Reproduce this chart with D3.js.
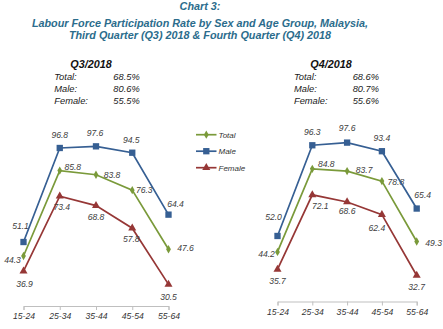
<!DOCTYPE html>
<html>
<head>
<meta charset="utf-8">
<script src="https://cdn.jsdelivr.net/npm/d3@7"></script>
<style>
  body { margin: 0; background: #fff; }
  svg { display: block; font-family: "Liberation Sans", Arial, sans-serif; }
  .ttl { font-weight: bold; font-style: italic; fill: #2b6c8c; font-size: 10.8px; }
  .info { font-style: italic; fill: #1a1a1a; font-size: 9.3px; }
  .infohead { font-weight: bold; font-style: italic; fill: #111; font-size: 10.8px; }
  .lbl { font-style: italic; fill: #404040; font-size: 8.6px; }
  .leg { font-style: italic; fill: #333; font-size: 8px; }
  .axis path, .axis line { stroke: #bfbfbf; }
  .axis text { font-style: italic; fill: #333; font-size: 8.6px; font-family: "Liberation Sans", Arial, sans-serif; }
</style>
</head>
<body>
<svg id="chart" width="443" height="329"></svg>
<script>
// age groups along the x axis
var ageGroups = ["15-24", "25-34", "35-44", "45-54", "55-64"];

// Q3/2018 participation rates (%)
var q3Total  = [44.3, 85.8, 83.8, 76.3, 47.6];
var q3Male   = [51.1, 96.8, 97.6, 94.5, 64.4];
var q3Female = [36.9, 73.4, 68.8, 57.8, 30.5];
var q3Overall = ["68.5%", "80.6%", "55.5%"];

// Q4/2018 participation rates (%)
var q4Total  = [44.2, 84.8, 83.7, 78.8, 49.3];
var q4Male   = [52.0, 96.3, 97.6, 93.4, 65.4];
var q4Female = [35.7, 72.1, 68.6, 62.4, 32.7];
var q4Overall = ["68.6%", "80.7%", "55.6%"];

var seriesNames = ["Total", "Male", "Female"];
var colors = { Total: "#7a9a3a", Male: "#365f93", Female: "#963736" };

// label offsets [dx, dy] from each point, per panel / series
var q3Offsets = {
  Total:  [[-11, 7], [13, -1], [16, 3], [12, 3], [17, 2]],
  Male:   [[-3, -13], [0, -10], [-1, -10], [-1, -10], [7, -8]],
  Female: [[1, 16], [2, 14], [0, 14], [-1, 14], [0, 16]]
};
var q4Offsets = {
  Total:  [[-11, 5], [14, -2], [17, 2], [14, 4], [17, 4]],
  Male:   [[-4, -16], [0, -10], [0, -12], [0, -10], [6, -11]],
  Female: [[0, 15], [8, 14], [0, 12], [-5, 16], [0, 15]]
};

var svg = d3.select("#chart");

// title block
var titleLines = [
  ["Chart 3:", 10],
  ["Labour Force Participation Rate by Sex and Age Group, Malaysia,", 26.5],
  ["Third Quarter (Q3) 2018 & Fourth Quarter (Q4) 2018", 39]
];
svg.selectAll("text.ttl").data(titleLines).join("text")
  .attr("class", "ttl")
  .attr("x", 200).attr("y", function(d){ return d[1]; })
  .attr("text-anchor", "middle")
  .text(function(d){ return d[0]; });

var symbolOf = {
  Total: d3.symbol().type(d3.symbolDiamond).size(20),
  Male: d3.symbol().type(d3.symbolSquare).size(40),
  Female: d3.symbol().type(d3.symbolTriangle).size(28)
};

function drawPanel(p) {
  var x = d3.scalePoint().domain(ageGroups).range(p.xRange);
  var y = d3.scaleLinear().domain([20, 100]).range(p.yRange);
  var g = svg.append("g");

  // header with overall rates
  g.append("text").attr("class", "infohead")
    .attr("x", p.headX).attr("y", 67.5).attr("text-anchor", "middle").text(p.head);
  seriesNames.forEach(function(s, i){
    var yy = 80.3 + i * 11.7;
    g.append("text").attr("class", "info").attr("x", p.infoX).attr("y", yy).text(s + ":");
    g.append("text").attr("class", "info").attr("x", p.valX).attr("y", yy).text(p.overall[i]);
  });

  g.append("g").attr("class", "axis")
    .attr("transform", "translate(0," + p.yRange[0] + ")")
    .call(d3.axisBottom(x).tickSize(4).tickSizeOuter(4).tickPadding(3))
    .call(function(a){ a.selectAll("text").attr("font-size", null); });

  var line = d3.line()
    .x(function(d, i){ return x(ageGroups[i]); })
    .y(function(d){ return y(d); });

  seriesNames.forEach(function(s){
    var vals = p.data[s];
    g.append("path").datum(vals)
      .attr("fill", "none").attr("stroke", colors[s]).attr("stroke-width", 1.7)
      .attr("d", line);
    g.selectAll(null).data(vals).join("path")
      .attr("transform", function(d, i){ return "translate(" + x(ageGroups[i]) + "," + y(d) + ")"; })
      .attr("fill", colors[s])
      .attr("d", symbolOf[s]);
    g.selectAll(null).data(vals).join("text")
      .attr("class", "lbl").attr("text-anchor", "middle")
      .attr("x", function(d, i){ return x(ageGroups[i]) + p.offsets[s][i][0]; })
      .attr("y", function(d, i){ return y(d) + p.offsets[s][i][1]; })
      .text(function(d){ return d.toFixed(1); });
  });
}

drawPanel({
  head: "Q3/2018", headX: 91, infoX: 54.3, valX: 113.3, overall: q3Overall,
  xRange: [23.5, 168.5], yRange: [306, 141.4],
  data: { Total: q3Total, Male: q3Male, Female: q3Female },
  offsets: q3Offsets
});
drawPanel({
  head: "Q4/2018", headX: 331, infoX: 294, valX: 352.7, overall: q4Overall,
  xRange: [277.5, 416.7], yRange: [301.5, 137.7],
  data: { Total: q4Total, Male: q4Male, Female: q4Female },
  offsets: q4Offsets
});

// legend between the panels
var leg = svg.append("g");
seriesNames.forEach(function(s, i){
  var ly = 134.7 + i * 16.5;
  leg.append("line").attr("x1", 196).attr("x2", 216.5).attr("y1", ly).attr("y2", ly)
    .attr("stroke", colors[s]).attr("stroke-width", 1.7);
  leg.append("path").attr("transform", "translate(206.3," + ly + ")")
    .attr("fill", colors[s]).attr("d", symbolOf[s]);
  leg.append("text").attr("class", "leg").attr("x", 218.5).attr("y", ly).attr("dy", "0.35em").text(s);
});
</script>
</body>
</html>
